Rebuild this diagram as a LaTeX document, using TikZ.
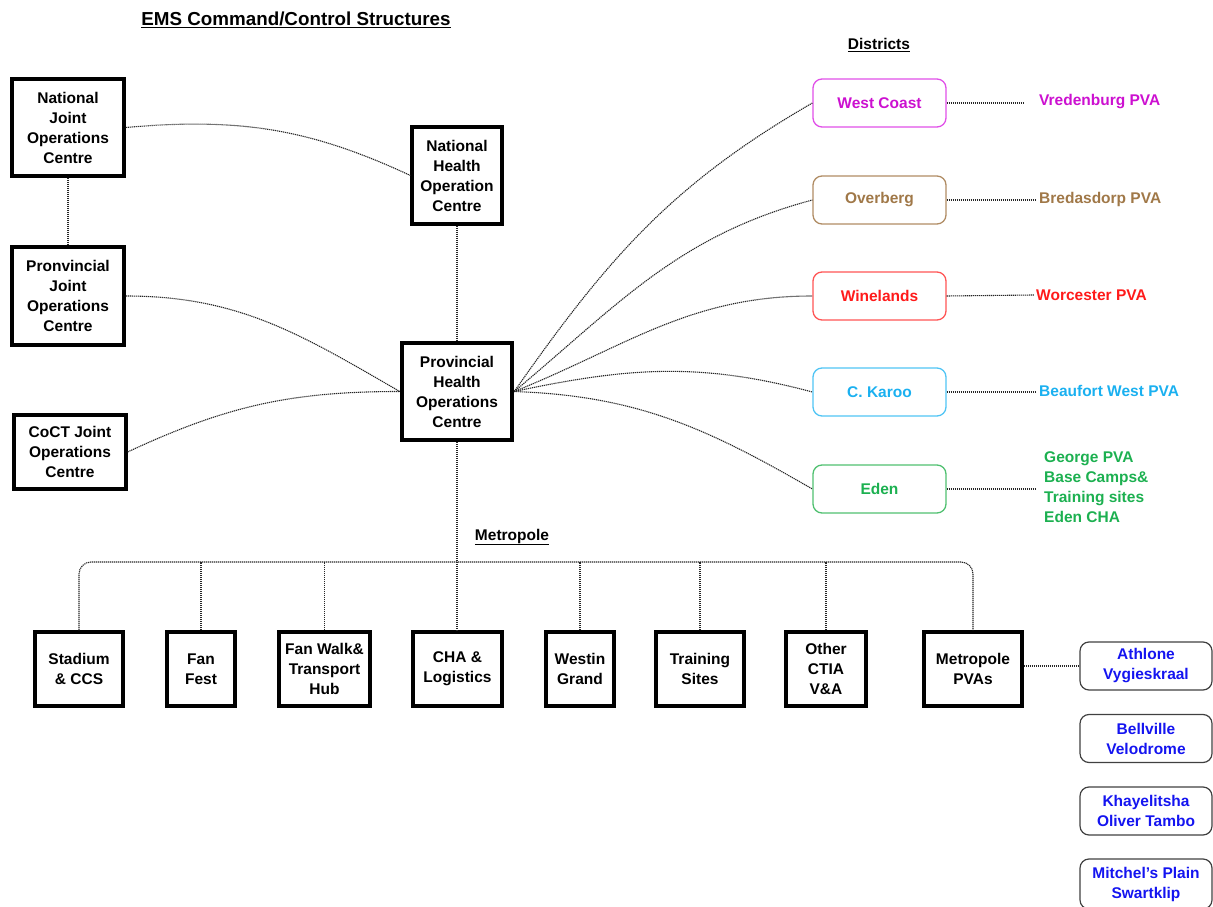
\documentclass[tikz,border=0pt]{standalone}
\usepackage{fontspec}
\setmainfont{Liberation Sans}
\definecolor{cWC}{HTML}{CC10D0}
\definecolor{cWCb}{HTML}{E050E8}
\definecolor{cOv}{HTML}{A07848}
\definecolor{cOvb}{HTML}{B08C64}
\definecolor{cWi}{HTML}{FF1A1A}
\definecolor{cWib}{HTML}{FF5555}
\definecolor{cCK}{HTML}{1AB0F0}
\definecolor{cCKb}{HTML}{50C4F4}
\definecolor{cEd}{HTML}{1CB050}
\definecolor{cEdb}{HTML}{50C070}
\definecolor{cBl}{HTML}{1414F0}
\tikzset{
  txt/.style={font=\fontsize{15.5}{20}\selectfont\bfseries, align=center},
  blk/.style={txt, draw=black, line width=3.2pt, inner sep=0pt},
  dist/.style={txt, draw, line width=1.3pt, rounded corners=9pt, minimum width=133pt, minimum height=48pt, inner sep=0pt},
  pva/.style={txt, draw=black!75, line width=1.2pt, rounded corners=9pt, minimum width=132pt, minimum height=48pt, inner sep=0pt, text=cBl},
  lbl/.style={txt, anchor=west, inner sep=0pt},
  conn/.style={draw=black!85, line width=1.1pt, dash pattern=on 1.2pt off 0.8pt}
}
\begin{document}
\begin{tikzpicture}[x=1pt,y=1pt]
\useasboundingbox (0,0) rectangle (1213,906);
% titles
\node[txt, font=\fontsize{18.8}{22}\selectfont\bfseries] (title) at (296,886) {\underline{EMS Command/Control Structures}};
\node[txt] (districts) at (879,861) {\underline{Districts}};
\node[txt] (metro) at (512,369) {\underline{Metropole}};
% left / central boxes
\node[blk, minimum width=112pt, minimum height=97pt] (njoc) at (68,778.5) {National\\Joint\\Operations\\Centre};
\node[blk, minimum width=90pt, minimum height=97pt] (nhoc) at (457,730.5) {National\\Health\\Operation\\Centre};
\node[blk, minimum width=112pt, minimum height=98pt] (pjoc) at (68,610) {Pronvincial\\Joint\\Operations\\Centre};
\node[blk, minimum width=112pt, minimum height=74pt] (coct) at (70,454) {CoCT Joint\\Operations\\Centre};
\node[blk, line width=4.5pt, minimum width=110pt, minimum height=97pt] (phoc) at (457,514.5) {Provincial\\Health\\Operations\\Centre};
% districts
\node[dist, draw=cWCb, text=cWC] (wc) at (879.5,803) {West Coast};
\node[dist, draw=cOvb, text=cOv] (ov) at (879.5,706) {Overberg};
\node[dist, draw=cWib, text=cWi] (wi) at (879.5,610) {Winelands};
\node[dist, draw=cCKb, text=cCK] (ck) at (879.5,514) {C. Karoo};
\node[dist, draw=cEdb, text=cEd] (ed) at (879.5,417) {Eden};
\node[lbl, text=cWC] (wcl) at (1039,804) {Vredenburg PVA};
\node[lbl, text=cOv] (ovl) at (1039,707) {Bredasdorp PVA};
\node[lbl, text=cWi] (wil) at (1036,611) {Worcester PVA};
\node[lbl, text=cCK] (ckl) at (1039,515) {Beaufort West PVA};
\node[lbl, text=cEd, align=left] (edl) at (1044,419) {George PVA\\Base Camps\&\\Training sites\\Eden CHA};
\coordinate (wce) at (1023,803);
\coordinate (ove) at (1036,706);
\coordinate (wie) at (1034,611);
\coordinate (cke) at (1036,514);
\coordinate (ede) at (1036,417);
% bottom row
\node[blk, minimum width=88pt, minimum height=74pt] (st) at (79,237) {Stadium\\\& CCS};
\node[blk, minimum width=68pt, minimum height=74pt] (ff) at (201,237) {Fan\\Fest};
\node[blk, minimum width=91pt, minimum height=74pt] (fw) at (324.5,237) {Fan Walk\&\\Transport\\Hub};
\node[blk, minimum width=89pt, minimum height=74pt] (cha) at (457.5,237) {CHA \&\\Logistics};
\node[blk, minimum width=68pt, minimum height=74pt] (wg) at (580,237) {Westin\\Grand};
\node[blk, minimum width=88pt, minimum height=74pt] (ts) at (700,237) {Training\\Sites};
\node[blk, minimum width=80pt, minimum height=74pt] (oc) at (826,237) {Other\\CTIA\\V\&A};
\node[blk, minimum width=98pt, minimum height=74pt] (mp) at (973,237) {Metropole\\PVAs};
% metropole PVAs
\node[pva] (ath) at (1146,240) {Athlone\\Vygieskraal};
\node[pva] (bel) at (1146,167.5) {Bellville\\Velodrome};
\node[pva] (kha) at (1146,95) {Khayelitsha\\Oliver Tambo};
\node[pva, minimum height=50pt] (mit) at (1146,22) {Mitchel's Plain\\Swartklip};
\coordinate (bus) at (0,344);
% connectors
\draw[conn] (njoc.south) -- (pjoc.north);
\draw[conn] (nhoc.south) -- (phoc.north);
\draw[conn] (njoc.east) to[out=5, in=155] (nhoc.west);
\draw[conn] (pjoc.east) to[out=0, in=150] (phoc.west);
\draw[conn] (coct.east) to[out=25, in=180] (phoc.west);
\draw[conn] (phoc.east) to[out=55, in=210] (wc.west);
\draw[conn] (phoc.east) to[out=40, in=195] (ov.west);
\draw[conn] (phoc.east) to[out=22, in=180] (wi.west);
\draw[conn] (phoc.east) to[out=12, in=165] (ck.west);
\draw[conn] (phoc.east) to[out=-2, in=150] (ed.west);
\draw[conn] (wc.east) -- (wce);
\draw[conn] (ov.east) -- (ove);
\draw[conn] (wi.east) -- (wie);
\draw[conn] (ck.east) -- (cke);
\draw[conn] (ed.east) -- (ede);
\draw[conn, rounded corners=12pt] (st.north) -- (st.north |- bus) -- (mp.north |- bus) -- (mp.north);
\draw[conn] (phoc.south) -- (phoc.south |- cha.north);
\draw[conn] (ff.north) -- (ff.north |- bus);
\draw[conn] (fw.north) -- (fw.north |- bus);
\draw[conn] (wg.north) -- (wg.north |- bus);
\draw[conn] (ts.north) -- (ts.north |- bus);
\draw[conn] (oc.north) -- (oc.north |- bus);
\draw[conn] (mp.east |- ath.west) -- (ath.west);
\end{tikzpicture}
\end{document}
